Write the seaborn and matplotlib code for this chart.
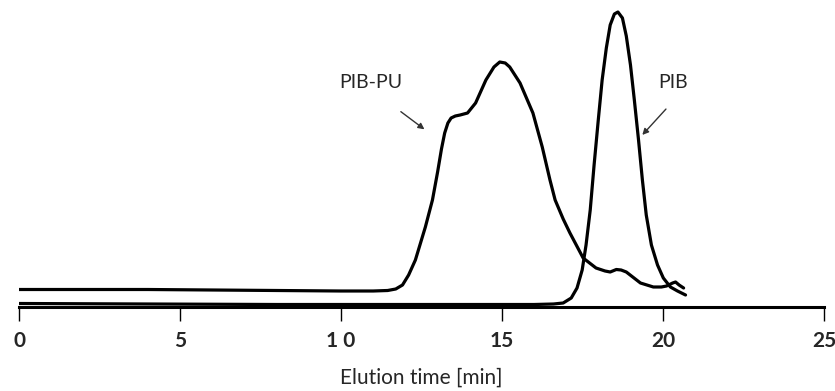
import matplotlib
matplotlib.use("Agg")
import matplotlib.pyplot as plt
import seaborn as sns
import pandas as pd

# PIB-PU trace (elution time [min], detector signal, arbitrary units)
pibpu_t = [0.0, 2.0, 4.0, 6.0, 8.0, 10.0, 11.0, 11.45, 11.7, 11.91, 12.1, 12.31,
           12.62, 12.84, 13.0, 13.12, 13.22, 13.32, 13.42, 13.55, 13.7, 13.93,
           14.18, 14.5, 14.75, 14.93, 15.1, 15.24, 15.56, 15.96, 16.25, 16.49,
           16.65, 16.9, 17.11, 17.52, 17.92, 18.2, 18.36, 18.55, 18.7, 18.86,
           19.1, 19.3, 19.7, 19.95, 20.11, 20.3, 20.39, 20.5, 20.64]
pibpu_y = [17.5, 17.5, 17.5, 17, 16.5, 16, 16, 16.5, 18, 22, 32, 47,
           80, 107, 135, 158, 174, 184, 189, 191, 192, 194,
           204, 227, 240, 245, 244, 240, 224, 194, 160, 127,
           107, 88, 74, 49, 39, 36, 35, 37.5, 37, 35,
           29, 24, 20, 20, 21, 24, 25, 22, 19]

# PIB trace
pib_t = [0.0, 4.0, 8.0, 12.0, 16.0, 16.6, 16.9, 17.15, 17.33, 17.49, 17.61,
         17.74, 17.86, 17.99, 18.11, 18.24, 18.36, 18.49, 18.6, 18.74, 18.86,
         18.99, 19.11, 19.24, 19.36, 19.48, 19.64, 19.83, 20.01, 20.23, 20.45, 20.7]
pib_y = [3.5, 3, 2.5, 2.5, 2.5, 3, 4, 9, 19, 37, 62,
         97, 142, 187, 227, 259, 282, 293, 295, 289, 271,
         242, 207, 167, 127, 92, 62, 42, 29, 20, 16, 12]

xticks = [0, 5, 10, 15, 20, 25]
xticklabels = ["0", "5", "1 0", "15", "20", "25"]

sns.set_theme(style="white")
plt.rcParams['font.family'] = ['Lato', 'DejaVu Sans']

fig = plt.figure(figsize=(8.35, 3.91), dpi=100)
ax = fig.add_axes([19/835, 1 - 307/391, (824 - 19)/835, 307/391])

df1 = pd.DataFrame({"t": pibpu_t, "y": pibpu_y})
df2 = pd.DataFrame({"t": pib_t, "y": pib_y})
sns.lineplot(data=df1, x="t", y="y", ax=ax, color="black", linewidth=2.3,
             sort=False, estimator=None)
sns.lineplot(data=df2, x="t", y="y", ax=ax, color="black", linewidth=2.3,
             sort=False, estimator=None)

ax.set_xlim(0, 25)
ax.set_ylim(0, 307)
for s in ["left", "right", "top"]:
    ax.spines[s].set_visible(False)
ax.spines["bottom"].set_color("black")
ax.spines["bottom"].set_linewidth(2.2)
ax.set_yticks([])
ax.set_xticks(xticks)
ax.set_xticklabels(xticklabels, fontsize=15, fontweight="bold")
ax.tick_params(axis="x", direction="out", length=10, width=1, color="black",
               pad=7, bottom=True)
ax.set_xlabel("Elution time [min]", fontsize=15, labelpad=12)
ax.set_ylabel("")

ax.text(10.94, 307 - 82, "PIB-PU", fontsize=14, ha="center", va="center")
ax.text(20.3, 307 - 82, "PIB", fontsize=14, ha="center", va="center")
ax.annotate("", xy=(12.66, 307 - 131), xytext=(11.79, 307 - 110),
            arrowprops=dict(arrowstyle="-|>", color="#333333", lw=1.0,
                            mutation_scale=9))
ax.annotate("", xy=(19.3, 307 - 137), xytext=(20.15, 307 - 107),
            arrowprops=dict(arrowstyle="-|>", color="#333333", lw=1.0,
                            mutation_scale=9))

fig.savefig("out.png", dpi=100)
